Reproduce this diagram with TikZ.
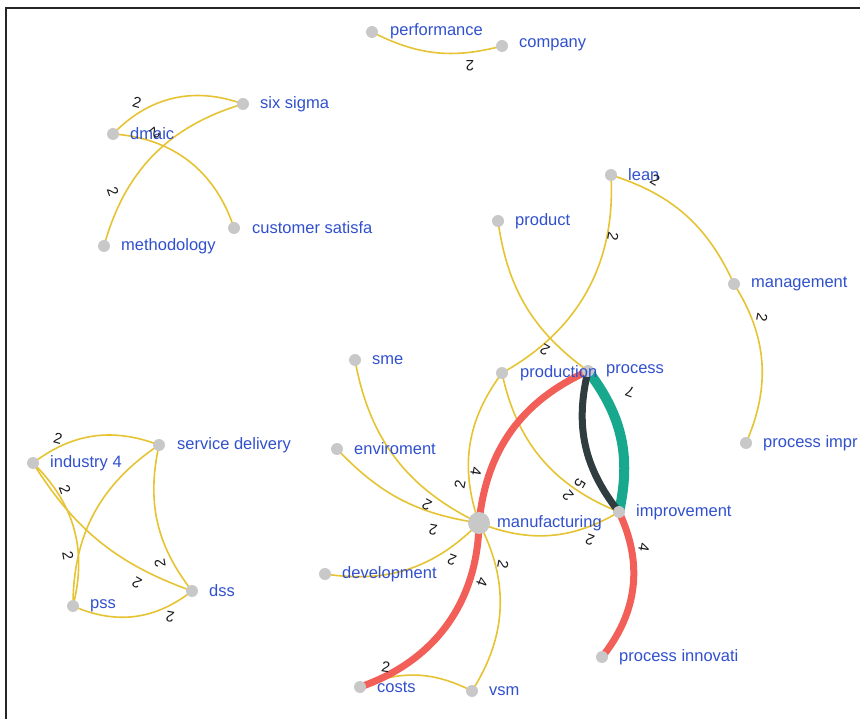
\documentclass[tikz,border=0pt]{standalone}
\usepackage{fontspec}
\setmainfont{Liberation Sans}
\definecolor{cyel}{RGB}{230,195,50}
\definecolor{cred}{RGB}{242,95,88}
\definecolor{cteal}{RGB}{24,168,142}
\definecolor{cdark}{RGB}{47,61,64}
\definecolor{cgray}{RGB}{200,200,200}
\definecolor{cblue}{RGB}{48,80,205}
\pgfdeclarelayer{bg}
\pgfsetlayers{bg,main}
\tikzset{
  dot/.style={circle,fill=cgray,minimum size=12pt,inner sep=0pt},
  bigdot/.style={dot,minimum size=22pt},
  lbl/.style={anchor=west,text=cblue,font=\fontsize{16.5}{18}\selectfont,inner sep=0pt},
  elab/.style={font=\fontsize{15}{17}\selectfont,inner sep=0pt,text=black!90},
  yedge/.style={draw=cyel,line width=1.6pt},
  redge/.style={draw=cred,line width=7pt},
  tedge/.style={draw=cteal,line width=10pt},
  dedge/.style={draw=cdark,line width=7pt},
  frame/.style={draw=black!85,line width=1.2pt}
}
\begin{document}
\begin{tikzpicture}[x=1pt,y=1pt]
\useasboundingbox (0,0) rectangle (860,-719);
\draw[frame] (6,-719) -- (6,-8) -- (860,-8);

% nodes (dots)
\node[dot] (perf) at (372,-32) {};
\node[dot] (comp) at (502,-46) {};
\node[dot] (six) at (243,-104) {};
\node[dot] (dmaic) at (113,-134) {};
\node[dot] (cust) at (234,-228) {};
\node[dot] (meth) at (104,-246) {};
\node[dot] (lean) at (611,-175) {};
\node[dot] (prod) at (498,-221) {};
\node[dot] (mgmt) at (734,-284) {};
\node[dot] (pimpr) at (746,-443) {};
\node[dot] (sme) at (355,-360) {};
\node[dot] (prodn) at (502,-373) {};
\node[dot] (proc) at (588,-371) {};
\node[dot] (env) at (337,-449) {};
\node[bigdot] (manu) at (479,-523) {};
\node[dot] (impr) at (619,-512) {};
\node[dot] (dev) at (325,-574) {};
\node[dot] (pinno) at (602,-657) {};
\node[dot] (costs) at (360,-687) {};
\node[dot] (vsm) at (472,-691) {};
\node[dot] (ind) at (33,-463) {};
\node[dot] (sd) at (159,-445) {};
\node[dot] (pss) at (73,-606) {};
\node[dot] (dss) at (192,-591) {};

% edges
\begin{pgfonlayer}{bg}
\draw[yedge] (perf.center) to[bend right=21] (comp.center);
\draw[yedge] (dmaic.center) to[bend left=33] (six.center);
\draw[yedge] (dmaic.center) to[bend left=34] (cust.center);
\draw[yedge] (meth.center) to[bend left=29] (six.center);
\draw[yedge] (lean.center) to[bend left=24] (mgmt.center);
\draw[yedge] (lean.center) to[bend left=32] (prodn.center);
\draw[yedge] (mgmt.center) to[bend left=28] (pimpr.center);
\draw[yedge] (prod.center) to[bend right=23] (proc.center);
\draw[yedge] (sme.center) to[bend right=27] (manu.center);
\draw[yedge] (env.center) to[bend right=19] (manu.center);
\draw[yedge] (dev.center) to[bend right=27] (manu.center);
\draw[yedge] (manu.center) to[bend left=30] (vsm.center);
\draw[yedge] (costs.center) to[bend left=25] (vsm.center);
\draw[yedge] (manu.center) to[bend left=28] (prodn.center);
\draw[yedge] (prodn.center) to[bend right=28] (impr.center);
\draw[yedge] (manu.center) to[bend right=26] (impr.center);
\draw[redge] (manu.center) to[bend left=35] (costs.center);
\draw[redge] (manu.center) to[bend left=30] (proc.center);
\draw[redge] (impr.center) to[bend left=32] (pinno.center);
\draw[tedge] (proc.center) to[bend left=25] (impr.center);
\draw[dedge] (proc.center) to[bend right=26] (impr.center);
\draw[yedge] (ind.center) to[bend left=29] (sd.center);
\draw[yedge] (ind.center) to[bend left=30] (pss.center);
\draw[yedge] (ind.center) to[bend right=19] (dss.center);
\draw[yedge] (sd.center) to[bend right=28] (pss.center);
\draw[yedge] (sd.center) to[bend right=25] (dss.center);
\draw[yedge] (pss.center) to[bend right=31] (dss.center);
\end{pgfonlayer}

% node labels
\node[lbl] (perf-l) at ([xshift=18pt,yshift=1pt]perf.center) {performance};
\node[lbl] (comp-l) at ([xshift=17pt,yshift=1pt]comp.center) {company};
\node[lbl] (six-l) at ([xshift=17pt]six.center) {six sigma};
\node[lbl] (dmaic-l) at ([xshift=17pt]dmaic.center) {dmaic};
\node[lbl] (cust-l) at ([xshift=18pt]cust.center) {customer satisfa};
\node[lbl] (meth-l) at ([xshift=17pt]meth.center) {methodology};
\node[lbl] (lean-l) at ([xshift=17pt]lean.center) {lean};
\node[lbl] (prod-l) at ([xshift=17pt]prod.center) {product};
\node[lbl] (mgmt-l) at ([xshift=17pt]mgmt.center) {management};
\node[lbl] (pimpr-l) at ([xshift=17pt]pimpr.center) {process impr};
\node[lbl] (sme-l) at ([xshift=17pt]sme.center) {sme};
\node[lbl] (prodn-l) at ([xshift=18pt]prodn.center) {production};
\node[lbl] (proc-l) at ([xshift=18pt]proc.center) {process};
\node[lbl] (env-l) at ([xshift=17pt]env.center) {enviroment};
\node[lbl] (manu-l) at ([xshift=18pt]manu.center) {manufacturing};
\node[lbl] (impr-l) at ([xshift=17pt]impr.center) {improvement};
\node[lbl] (dev-l) at ([xshift=17pt]dev.center) {development};
\node[lbl] (pinno-l) at ([xshift=17pt]pinno.center) {process innovati};
\node[lbl] (costs-l) at ([xshift=17pt]costs.center) {costs};
\node[lbl] (vsm-l) at ([xshift=17pt]vsm.center) {vsm};
\node[lbl] (ind-l) at ([xshift=17pt]ind.center) {industry 4};
\node[lbl] (sd-l) at ([xshift=18pt]sd.center) {service delivery};
\node[lbl] (pss-l) at ([xshift=17pt]pss.center) {pss};
\node[lbl] (dss-l) at ([xshift=17pt]dss.center) {dss};

% edge labels
\node[elab,rotate=180] (w1) at (470,-66) {2};
\node[elab,rotate=-15] (w2) at (137,-103) {2};
\node[elab,rotate=-140] (w3) at (155,-133) {2};
\node[elab,rotate=-70] (w4) at (113,-192) {2};
\node[elab,rotate=-30] (w5) at (655,-180) {2};
\node[elab,rotate=-100] (w6) at (613,-237) {2};
\node[elab,rotate=-100] (w7) at (762,-318) {2};
\node[elab,rotate=150] (w8) at (545,-350) {2};
\node[elab,rotate=80] (w9) at (460,-484) {2};
\node[elab,rotate=-100] (w10) at (476,-472) {4};
\node[elab,rotate=150] (w11) at (427,-505) {2};
\node[elab,rotate=170] (w12) at (433,-530) {2};
\node[elab,rotate=160] (w13) at (452,-560) {2};
\node[elab,rotate=-100] (w14) at (503,-565) {2};
\node[elab,rotate=-110] (w15) at (482,-582) {4};
\node[elab,rotate=-10] (w16) at (386,-667) {2};
\node[elab,rotate=130] (w17) at (568,-496) {2};
\node[elab,rotate=-120] (w18) at (580,-484) {5};
\node[elab,rotate=160] (w19) at (590,-540) {2};
\node[elab,rotate=160] (w20) at (630,-392) {7};
\node[elab,rotate=-100] (w21) at (644,-548) {4};
\node[elab,rotate=-15] (w22) at (58,-439) {2};
\node[elab,rotate=-70] (w23) at (65,-490) {2};
\node[elab,rotate=-80] (w24) at (68,-556) {2};
\node[elab,rotate=150] (w25) at (137,-583) {2};
\node[elab,rotate=100] (w26) at (160,-563) {2};
\node[elab,rotate=170] (w27) at (170,-617) {2};
\end{tikzpicture}
\end{document}
